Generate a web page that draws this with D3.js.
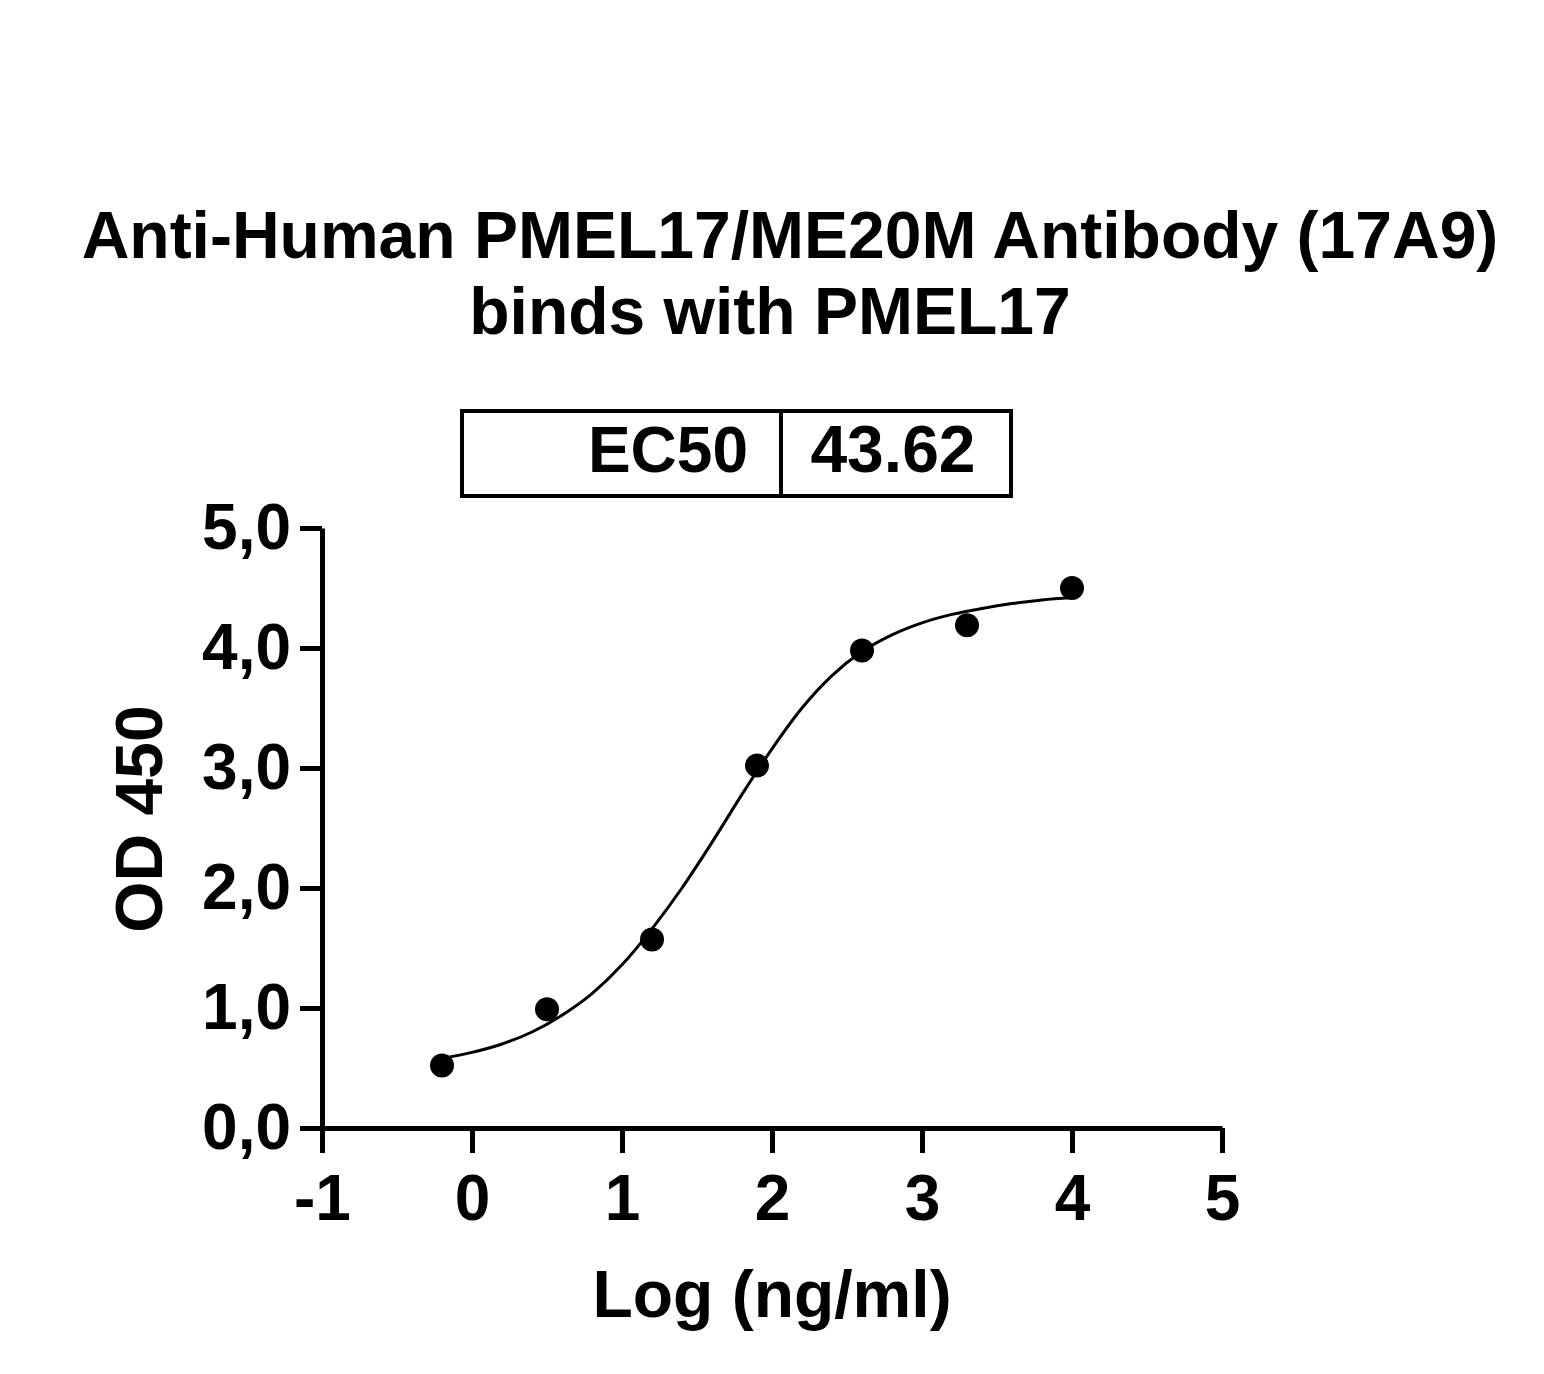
<!DOCTYPE html>
<html lang="en-US">
<head>
<meta charset="UTF-8">
<title>PMEL17 ELISA</title>
<script src="https://cdn.jsdelivr.net/npm/d3@7"></script>
<style>
  body { margin: 0; background: #fff; }
  svg text { font-family: "Liberation Sans", Arial, sans-serif; font-weight: bold; fill: #000; }
</style>
</head>
<body>
<div id="chart"></div>
<script>
// measured points (log ng/ml vs OD 450)
const logConc = [-0.2, 0.5, 1.2, 1.9, 2.6, 3.3, 4.0];
const od450 = [0.52, 0.99, 1.57, 3.02, 3.98, 4.19, 4.50];

// fitted curve
const fitX = [-0.2, 0, 0.2, 0.4, 0.6, 0.8, 1.0, 1.2, 1.4, 1.6, 1.8, 2.0, 2.2, 2.4, 2.6, 2.8, 3.0, 3.2, 3.4, 3.6, 3.8, 4.0];
const fitY = [0.58, 0.63, 0.70, 0.80, 0.94, 1.12, 1.36, 1.66, 2.00, 2.38, 2.78, 3.16, 3.50, 3.77, 3.97, 4.11, 4.21, 4.28, 4.33, 4.37, 4.40, 4.42];

const xTicks = [-1, 0, 1, 2, 3, 4, 5];
const yTicks = [0, 1, 2, 3, 4, 5];
const titleLines = ["Anti-Human PMEL17/ME20M Antibody (17A9)", "binds with PMEL17"];
const ec50Label = "EC50";
const ec50Value = "43.62";

let width = 1544;
let height = 1374;

const svg = d3.select("#chart").append("svg")
  .attr("width", width)
  .attr("height", height);

svg.append("rect").attr("width", width).attr("height", height).attr("fill", "#fff");

const x = d3.scaleLinear().domain([-1, 5]).range([322, 1222]);
const y = d3.scaleLinear().domain([0, 5]).range([1128, 528]);

// title
svg.append("text").attr("x", 790).attr("y", 258).attr("text-anchor", "middle")
  .style("font-size", "66px").text(titleLines[0]);
svg.append("text").attr("x", 770).attr("y", 334).attr("text-anchor", "middle")
  .style("font-size", "66px").text(titleLines[1]);

// EC50 box
const box = svg.append("g");
box.append("rect").attr("x", 462).attr("y", 411).attr("width", 549).attr("height", 85)
  .attr("fill", "none").attr("stroke", "#000").attr("stroke-width", 4);
box.append("line").attr("x1", 781).attr("x2", 781).attr("y1", 411).attr("y2", 496)
  .attr("stroke", "#000").attr("stroke-width", 4);
box.append("text").attr("x", 748).attr("y", 472).attr("text-anchor", "end")
  .style("font-size", "64px").text(ec50Label);
box.append("text").attr("x", 893).attr("y", 472).attr("text-anchor", "middle")
  .style("font-size", "66px").text(ec50Value);

// axes
const yAxisG = svg.append("g").attr("transform", "translate(322,0)")
  .call(d3.axisLeft(y).tickValues(yTicks).tickSize(22).tickSizeOuter(0).tickPadding(9)
    .tickFormat(d => d.toFixed(1).replace(".", ",")));
const xAxisG = svg.append("g").attr("transform", "translate(0,1128)")
  .call(d3.axisBottom(x).tickValues(xTicks).tickSize(25).tickSizeOuter(0).tickPadding(22)
    .tickFormat(d => String(d)));

[yAxisG, xAxisG].forEach(g => {
  g.selectAll("path, line").attr("stroke", "#000").attr("stroke-width", 5);
  g.selectAll("text").attr("fill", "#000");
});
yAxisG.selectAll("text").style("font-size", "64px");
xAxisG.selectAll("text").style("font-size", "64px");

// axis titles
svg.append("text").attr("transform", "translate(162,819) rotate(-90)").attr("text-anchor", "middle")
  .style("font-size", "66px").text("OD 450");
svg.append("text").attr("x", 772).attr("y", 1317).attr("text-anchor", "middle")
  .style("font-size", "66px").text("Log (ng/ml)");

// fitted curve
const line = d3.line().x(d => x(d[0])).y(d => y(d[1])).curve(d3.curveMonotoneX);
svg.append("path")
  .datum(fitX.map((v, i) => [v, fitY[i]]))
  .attr("d", line)
  .attr("fill", "none")
  .attr("stroke", "#000")
  .attr("stroke-width", 3);

// points
svg.append("g").selectAll("circle")
  .data(logConc.map((v, i) => [v, od450[i]]))
  .enter()
  .append("circle")
    .attr("cx", d => x(d[0]))
    .attr("cy", d => y(d[1]))
    .attr("r", 12)
    .attr("fill", "#000");
</script>
</body>
</html>
